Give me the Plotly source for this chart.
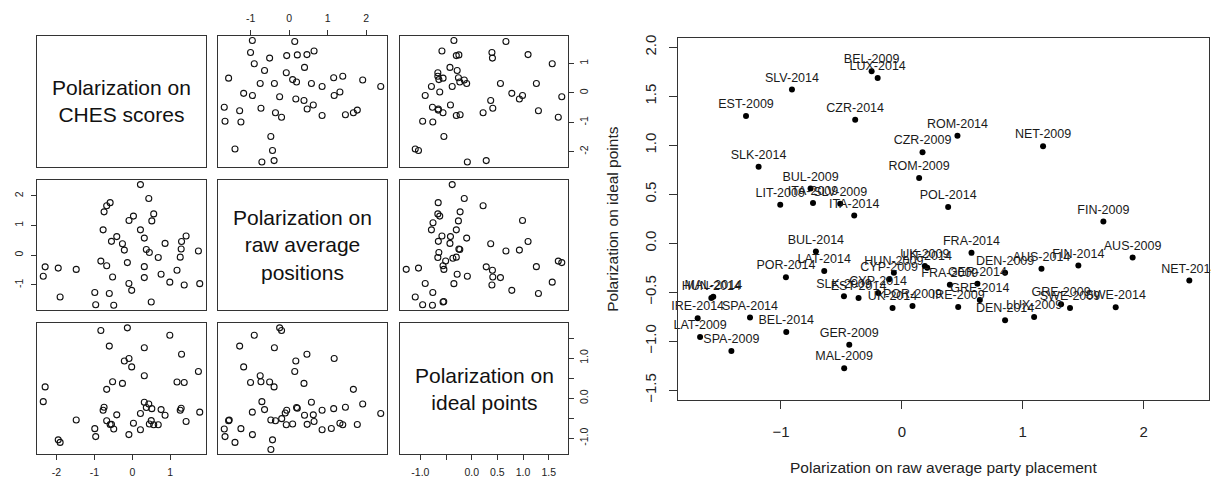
import numpy as np
import plotly.graph_objects as go

# ---------------- data ----------------
labels = ["BEL-2009", "LUX-2014", "SLV-2014", "EST-2009", "CZR-2014", "ROM-2014", "NET-2009",
          "CZR-2009", "SLK-2014", "ROM-2009", "BUL-2009", "ITA-2009", "SLV-2009", "LIT-2009",
          "POL-2014", "ITA-2014", "FIN-2009", "BUL-2014", "FRA-2014", "AUS-2009", "FIN-2014",
          "UK-2009", "LIT-2014", "AUS-2014", "LAT-2014", "DEN-2009", "HUN-2009", "POR-2014",
          "CYP-2009", "NET-2014", "GER-2014", "FRA-2009", "CYP-2014", "SLK-2009", "HUN-2014",
          "MAL-2014", "EST-2014", "GRE-2014", "GRE-2009", "POR-2009", "IRE-2009", "SWE-2014",
          "SWE-2009", "UK-2014", "LUX-2009", "SPA-2014", "IRE-2014", "DEN-2014", "BEL-2014",
          "LAT-2009", "GER-2009", "SPA-2009", "MAL-2009"]

raw_avg = [-0.25, -0.20, -0.909, -1.289, -0.386, 0.46, 1.168,
           0.171, -1.185, 0.143, -0.755, -0.735, -0.51, -1.006,
           0.383, -0.394, 1.667, -0.711, 0.576, 1.909, 1.46,
           0.19, 0.21, 1.155, -0.642, 0.854, -0.066, -0.959,
           -0.105, 2.378, 0.625, 0.397, -0.196, -0.479, -1.576,
           -1.56, -0.358, 0.645, 1.317, 0.088, 0.466, 1.769,
           1.391, -0.077, 1.094, -1.256, -1.689, 0.854, -0.956,
           -1.669, -0.435, -1.41, -0.477]

ideal_pts = [1.755, 1.687, 1.569, 1.30, 1.26, 1.098, 0.99,
             0.929, 0.781, 0.667, 0.56, 0.411, 0.404, 0.394,
             0.37, 0.283, 0.222, -0.085, -0.098, -0.145, -0.226,
             -0.232, -0.25, -0.259, -0.283, -0.30, -0.30, -0.347,
             -0.367, -0.38, -0.414, -0.424, -0.508, -0.542, -0.558,
             -0.545, -0.559, -0.58, -0.623, -0.64, -0.65, -0.653,
             -0.66, -0.66, -0.754, -0.758, -0.765, -0.785, -0.906,
             -0.956, -1.037, -1.10, -1.276]

ches = [-0.13, -0.83, 0.99, -0.607, 0.317, 1.30, -0.087,
        -0.21, -0.016, 1.745, 0.317, -0.52, 1.18, 1.37,
        -0.26, -2.30, -0.676, -2.35, 0.317, 0.435, -0.745,
        0.37, 1.29, 0.515, 0.76, -0.77, 1.265, 1.78,
        None, 0.215, -0.41, 0.865, None, -1.48, 0.50,
        None, -0.676, 1.42, 0.03, 0.45, -0.55, -0.585,
        0.565, 0.685, None, -0.99, -0.49, 0.215, -0.09,
        -0.966, -1.955, -1.905, None]

var_names = ["Polarization on<br>CHES scores",
             "Polarization on<br>raw average<br>positions",
             "Polarization on<br>ideal points"]

ches_ticks = [-2, -1, 0, 1]
ches_ticktext = ["-2", "-1", "0", "1"]
raw_ticks = [-1, 0, 1, 2]
raw_ticktext = ["-1", "0", "1", "2"]
ideal_ticks = [-1.0, -0.5, 0.0, 0.5, 1.0, 1.5]
ideal_xticktext = ["-1.0", "", "0.0", "0.5", "1.0", "1.5"]
ideal_yticktext = ["-1.0", "", "0.0", "", "1.0", ""]
right_xticks = [-1, 0, 1, 2]
right_yticks = [-1.5, -1.0, -0.5, 0.0, 0.5, 1.0, 1.5, 2.0]

x_title = "Polarization on raw average party placement"
y_title = "Polarization on ideal points"

# ---------------- layout helpers ----------------
W, H = 1211, 482
FONT = "Liberation Sans, Arial, Helvetica, sans-serif"
LINE = "#333333"

def fx(p):
    return p / W

def fy(p):
    return 1 - p / H

cols_px = [(37, 206), (218, 387), (400, 568)]
rows_px = [(33, 166), (179, 311), (324, 457)]
right_x_px = (678, 1209)
right_y_px = (35, 402)

variables = [np.array([np.nan if v is None else v for v in ches], float),
             np.array(raw_avg, float),
             np.array(ideal_pts, float)]

def padded(a):
    lo, hi = np.nanmin(a), np.nanmax(a)
    d = (hi - lo) * 0.04
    return [lo - d, hi + d]

ranges = [padded(v) for v in variables]

fig = go.Figure()
layout = dict(width=W, height=H, margin=dict(l=0, r=0, t=0, b=0), autosize=False,
              paper_bgcolor="white", plot_bgcolor="white", showlegend=False,
              font=dict(family=FONT, color="#222222"))
annotations = []

def base_axis():
    return dict(showline=True, linecolor=LINE, linewidth=1, mirror=True,
                showgrid=False, zeroline=False, ticks="", showticklabels=False,
                fixedrange=True)

def axname(prefix, k):
    return prefix + ("" if k == 1 else str(k))

for r in range(3):
    for c in range(3):
        k = r * 3 + c + 1
        xa = base_axis()
        ya = base_axis()
        xa.update(domain=[fx(cols_px[c][0]), fx(cols_px[c][1])], range=ranges[c],
                  anchor=axname("y", k))
        ya.update(domain=[fy(rows_px[r][1]), fy(rows_px[r][0])], range=ranges[r],
                  anchor=axname("x", k))
        if r == 0 and c == 1:
            xa.update(side="top", ticks="outside", ticklen=5, tickcolor=LINE,
                      showticklabels=True, tickvals=raw_ticks, ticktext=raw_ticktext,
                      tickfont=dict(size=10.5), ticklabelstandoff=3)
        if r == 2 and c in (0, 2):
            if c == 0:
                tv, tt = ches_ticks, ches_ticktext
            else:
                tv, tt = ideal_ticks, ideal_xticktext
            xa.update(side="bottom", ticks="outside", ticklen=5, tickcolor=LINE,
                      showticklabels=True, tickvals=tv, ticktext=tt,
                      tickfont=dict(size=10.5), ticklabelstandoff=3)
        if c == 0 and r == 1:
            ya.update(side="left", ticks="outside", ticklen=5, tickcolor=LINE,
                      showticklabels=True, tickvals=raw_ticks, ticktext=raw_ticktext,
                      tickangle=-90, tickfont=dict(size=10.5), ticklabelstandoff=4)
        if c == 2 and r in (0, 2):
            if r == 0:
                tv, tt = ches_ticks, ches_ticktext
            else:
                tv, tt = ideal_ticks, ideal_yticktext
            ya.update(side="right", ticks="outside", ticklen=5, tickcolor=LINE,
                      showticklabels=True, tickvals=tv, ticktext=tt,
                      tickangle=-90, tickfont=dict(size=10.5), ticklabelstandoff=1)
        layout[axname("xaxis", k)] = xa
        layout[axname("yaxis", k)] = ya
        if r == c:
            # empty trace so that the diagonal panel is drawn
            fig.add_trace(go.Scatter(x=[None], y=[None], mode="markers",
                                     xaxis=axname("x", k), yaxis=axname("y", k),
                                     hoverinfo="skip"))
            annotations.append(dict(
                text=var_names[r], xref=axname("x", k) + " domain",
                yref=axname("y", k) + " domain",
                x=0.5, y=0.5, showarrow=False, xanchor="center", yanchor="middle",
                font=dict(size=21, color="#111111", family=FONT), align="center"))
        else:
            fig.add_trace(go.Scatter(
                x=variables[c], y=variables[r], mode="markers",
                xaxis=axname("x", k), yaxis=axname("y", k),
                marker=dict(symbol="circle-open", size=6, color="#111111",
                            line=dict(width=1.1, color="#111111")),
                hoverinfo="skip"))

# ---------------- right scatter ----------------
xa = base_axis()
ya = base_axis()
xa.update(domain=[fx(right_x_px[0]), fx(right_x_px[1])], range=ranges[1], anchor="y10",
          ticks="outside", ticklen=8, tickcolor=LINE, showticklabels=True,
          tickvals=right_xticks, tickfont=dict(size=15), ticklabelstandoff=10)
ya.update(domain=[fy(right_y_px[1]), fy(right_y_px[0])], range=[-1.6, 2.1], anchor="x10",
          ticks="outside", ticklen=8, tickcolor=LINE, showticklabels=True,
          tickvals=right_yticks, tickformat=".1f", tickangle=-90,
          tickfont=dict(size=15), ticklabelstandoff=7)
layout["xaxis10"] = xa
layout["yaxis10"] = ya

fig.add_trace(go.Scatter(
    x=raw_avg, y=ideal_pts, text=labels, mode="markers+text",
    xaxis="x10", yaxis="y10", textposition="top center",
    textfont=dict(size=12.5, color="#1a1a1a", family=FONT),
    marker=dict(symbol="circle", size=6, color="#000000"),
    cliponaxis=False, hoverinfo="text"))

annotations.append(dict(text=x_title, xref="paper", yref="paper",
                        x=fx((right_x_px[0] + right_x_px[1]) / 2), y=fy(470),
                        showarrow=False, xanchor="center", yanchor="middle",
                        font=dict(size=15.5, color="#222222", family=FONT)))
annotations.append(dict(text=y_title, xref="paper", yref="paper",
                        x=fx(613), y=fy((right_y_px[0] + right_y_px[1]) / 2),
                        showarrow=False, xanchor="center", yanchor="middle", textangle=-90,
                        font=dict(size=15.5, color="#222222", family=FONT)))

layout["annotations"] = annotations
fig.update_layout(**layout)
fig.write_html("out.html", config={"displayModeBar": False},
               post_script="document.body.style.margin='0px';document.body.style.overflow='hidden';")
